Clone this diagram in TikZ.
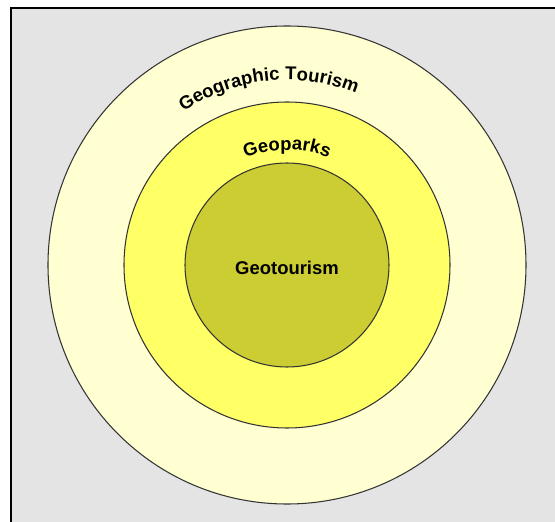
\documentclass[tikz,border=0pt]{standalone}
\usepackage{fontspec}
\setmainfont{Liberation Sans}
\usetikzlibrary{decorations.text}
\definecolor{bggray}{HTML}{E4E4E4}
\definecolor{outerfill}{HTML}{FFFFD2}
\definecolor{midfill}{HTML}{FFFF66}
\definecolor{innerfill}{HTML}{CCCC33}
\begin{document}
\begin{tikzpicture}[ring/.style={draw=black!80, line width=0.6pt},
    arctext/.style={decorate, decoration={text along path, text align=center,
        text format delimiters={|}{|}, text={|\bfseries\fontsize{10.5}{12}\selectfont|#1}}}]
\useasboundingbox (0,0) rectangle (11.1,10.44);
\fill[bggray] (0.22,0) rectangle (11.1,10.28);
\draw[line width=1.4pt] (0.22,0)--(0.22,10.28)--(11.1,10.28);
\coordinate (c) at (5.74,5.14);
\draw[ring, fill=outerfill] (c) circle (4.78);
\draw[ring, fill=midfill] (c) circle (3.26);
\draw[ring, fill=innerfill] (c) circle (2.04);
% curved labels
\path[arctext={Geographic Tourism}] (c) ++(156:3.7) arc (156:36:3.7);
\path[arctext={Geoparks}] (c) ++(150:2.3) arc (150:30:2.3);
\node (geo) at ([yshift=-0.06cm]c) {\bfseries\fontsize{10.5}{12}\selectfont Geotourism};
\end{tikzpicture}
\end{document}
